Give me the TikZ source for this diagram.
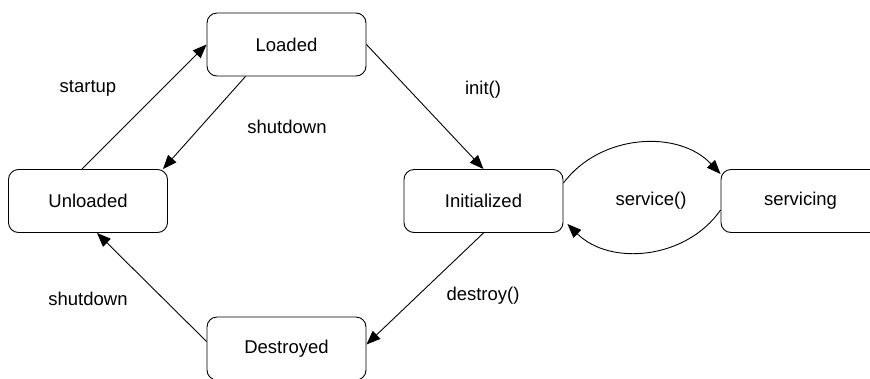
\documentclass[tikz,border=0pt]{standalone}
\usepackage{fontspec}
\setmainfont{Liberation Sans}
\usetikzlibrary{arrows.meta}
\tikzset{>={Triangle[length=14pt, width=11pt]}}
\tikzset{state/.style={draw, rounded corners=10pt, minimum width=159pt, minimum height=63pt, inner sep=0pt}}

\begin{document}
\begin{tikzpicture}[x=1pt, y=-1pt, line width=0.9pt, font=\fontsize{18.5}{22}\selectfont]
	\useasboundingbox (0,0) rectangle (870,378);
	\node[state] (loaded) at (286.5,44.5) {Loaded};
	\node[state] (unloaded) at (88,201) {Unloaded};
	\node[state] (initialized) at (483.5,201) {Initialized};
	\node[state] (destroyed) at (286.5,348.5) {Destroyed};
	\node[state] (servicing) at (800.5,201) {servicing};
	\draw[->] ([xshift=-6pt]unloaded.north) -- (loaded.west);
	\draw[->] ([xshift=-41pt]loaded.south) -- ([xshift=-5pt]unloaded.north east);
	\draw[->] (loaded.east) -- (initialized.north);
	\draw[->] (initialized.south) -- ([yshift=4pt]destroyed.east);
	\draw[->] ([yshift=7pt]destroyed.west) -- ([xshift=9pt]unloaded.south);
	\draw[->] ([yshift=18pt]initialized.east) to[bend left=50] ([yshift=27pt]servicing.west);
	\draw[->] ([yshift=-9pt]servicing.west) to[bend left=50] ([xshift=4pt, yshift=-23pt]initialized.east);
	\node (startup) at (88,88) {startup};
	\node (shutdownA) at (287,127) {shutdown};
	\node (init) at (483,90) {init()};
	\node (destroy) at (483,296) {destroy()};
	\node (shutdownB) at (88,299) {shutdown};
	\node (service) at (651,201) {service()};
\end{tikzpicture}
\end{document}
